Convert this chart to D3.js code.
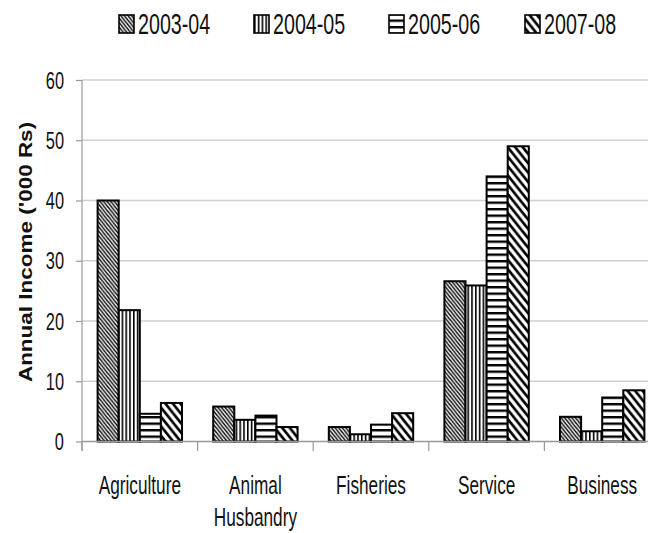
<!DOCTYPE html>
<html>
<head>
<meta charset="utf-8">
<script src="https://cdn.jsdelivr.net/npm/d3@7"></script>
<style>
  html, body { margin: 0; padding: 0; background: #fff; }
  svg { display: block; }
  .narrow { font-family: 'Liberation Sans', Arial, sans-serif; fill: #111; }
</style>
</head>
<body>
<svg id="chart" width="648" height="533"></svg>
<script>
const categories = ["Agriculture", "Animal Husbandry", "Fisheries", "Service", "Business"];
const seriesNames = ["2003-04", "2004-05", "2005-06", "2007-08"];
const s2003_04 = [40.0, 5.8, 2.4, 26.6, 4.1];
const s2004_05 = [21.8, 3.6, 1.2, 25.9, 1.7];
const s2005_06 = [4.6, 4.3, 2.8, 44.0, 7.3];
const s2007_08 = [6.4, 2.4, 4.7, 49.0, 8.5];
const yTicks = [0, 10, 20, 30, 40, 50, 60];
const yTitle = "Annual Income ('000 Rs)";

const seriesValues = [s2003_04, s2004_05, s2005_06, s2007_08];

const svg = d3.select("#chart");
svg.append("rect").attr("width", 648).attr("height", 533).attr("fill", "#fff");

// patterns
const defs = svg.append("defs");
const p1 = defs.append("pattern").attr("id", "pat0").attr("patternUnits", "userSpaceOnUse")
  .attr("width", 3.6).attr("height", 3.6).attr("patternTransform", "scale(1,1.25)");
p1.append("rect").attr("width", 3.6).attr("height", 3.6).attr("fill", "#fff");
p1.append("path").attr("d", "M-1,-1 L4.6,4.6 M-1,2.6 L1,4.6 M2.6,-1 L4.6,1").attr("stroke", "#111").attr("stroke-width", 1.4);

const p2 = defs.append("pattern").attr("id", "pat1").attr("patternUnits", "userSpaceOnUse")
  .attr("width", 3.8).attr("height", 4);
p2.append("rect").attr("width", 3.8).attr("height", 4).attr("fill", "#fff");
p2.append("rect").attr("x", 0).attr("width", 1.6).attr("height", 4).attr("fill", "#000");

const p3 = defs.append("pattern").attr("id", "pat2").attr("patternUnits", "userSpaceOnUse")
  .attr("width", 4).attr("height", 6.5);
p3.append("rect").attr("width", 4).attr("height", 6.5).attr("fill", "#fff");
p3.append("rect").attr("y", 0).attr("width", 4).attr("height", 2.4).attr("fill", "#000");

const p4 = defs.append("pattern").attr("id", "pat3").attr("patternUnits", "userSpaceOnUse")
  .attr("width", 7.5).attr("height", 7.5).attr("patternTransform", "scale(1,1.25)");
p4.append("rect").attr("width", 7.5).attr("height", 7.5).attr("fill", "#fff");
p4.append("path").attr("d", "M-1,-1 L8.5,8.5 M-1,6.5 L1,8.5 M6.5,-1 L8.5,1").attr("stroke", "#000").attr("stroke-width", 2.4);

// scales
const x0 = d3.scaleBand().domain(categories).range([82, 660]).paddingInner(0.27).paddingOuter(0.135);
const x1 = d3.scaleBand().domain(seriesNames).range([0, x0.bandwidth()]);
const y = d3.scaleLinear().domain([0, 60]).range([441.5, 80]);

// gridlines
svg.append("g").selectAll("line").data(yTicks.filter(d => d > 0)).join("line")
  .attr("x1", 82).attr("x2", 648).attr("y1", d => y(d)).attr("y2", d => y(d))
  .attr("stroke", "#d0d0d0").attr("stroke-width", 1.6);

// y axis
const yAxis = svg.append("g").attr("transform", "translate(82,0)")
  .call(d3.axisLeft(y).tickValues(yTicks).tickSize(6).tickFormat(""));
yAxis.select(".domain").remove();
yAxis.selectAll(".tick line").attr("stroke", "#999").attr("stroke-width", 1.2);
svg.append("line").attr("x1", 82).attr("x2", 82).attr("y1", y(60)).attr("y2", 451)
  .attr("stroke", "#999").attr("stroke-width", 1.2);

// y labels
svg.append("g").selectAll("text").data(yTicks).join("text")
  .attr("class", "narrow")
  .attr("transform", d => `translate(64,${y(d)}) scale(0.82,1.2)`)
  .attr("text-anchor", "end").attr("dy", "0.36em")
  .style("font-size", "20px")
  .text(d => d);

// y title
svg.append("text")
  .attr("transform", "translate(32,252) rotate(-90) scale(1.25,1)")
  .attr("text-anchor", "middle")
  .style("font-family", "'Liberation Sans', Arial, sans-serif")
  .style("font-weight", "bold").style("font-size", "18px").attr("fill", "#111")
  .text(yTitle);

// bars
const barG = svg.append("g");
seriesNames.forEach((s, si) => {
  barG.append("g").selectAll("rect").data(categories.map((c, ci) => ({c, v: seriesValues[si][ci]}))).join("rect")
    .attr("x", d => x0(d.c) + x1(s))
    .attr("width", x1.bandwidth())
    .attr("y", d => y(d.v))
    .attr("height", d => y(0) - y(d.v))
    .attr("fill", `url(#pat${si})`)
    .attr("stroke", "#000").attr("stroke-width", 2);
});

// x axis line
svg.append("line").attr("x1", 82).attr("x2", 648).attr("y1", y(0)).attr("y2", y(0))
  .attr("stroke", "#999").attr("stroke-width", 1.4);
// category boundary ticks
const bounds = categories.map(c => x0(c) - x0.step() * x0.paddingOuter());
svg.append("g").selectAll("line").data(bounds).join("line")
  .attr("x1", d => d).attr("x2", d => d).attr("y1", y(0)).attr("y2", 451)
  .attr("stroke", "#999").attr("stroke-width", 1.2);

// category labels
const catLines = {"Animal Husbandry": ["Animal", "Husbandry"]};
categories.forEach(c => {
  const lines = catLines[c] || [c];
  lines.forEach((ln, li) => {
    svg.append("text").attr("class", "narrow")
      .attr("transform", `translate(${x0(c) + x0.bandwidth() / 2},${494 + li * 32}) scale(0.82,1.2)`)
      .attr("text-anchor", "middle").style("font-size", "21px")
      .text(ln);
  });
});

// legend
const legendX = [119, 254, 389, 525];
seriesNames.forEach((s, si) => {
  const g = svg.append("g").attr("transform", `translate(${legendX[si]},0)`);
  g.append("rect").attr("x", 0).attr("y", 15).attr("width", 15).attr("height", 18)
    .attr("fill", `url(#pat${si})`).attr("stroke", "#000").attr("stroke-width", 1.6);
  g.append("text").attr("class", "narrow")
    .attr("transform", "translate(19,34) scale(0.82,1.2)")
    .style("font-size", "24px")
    .text(s);
});
</script>
</body>
</html>
